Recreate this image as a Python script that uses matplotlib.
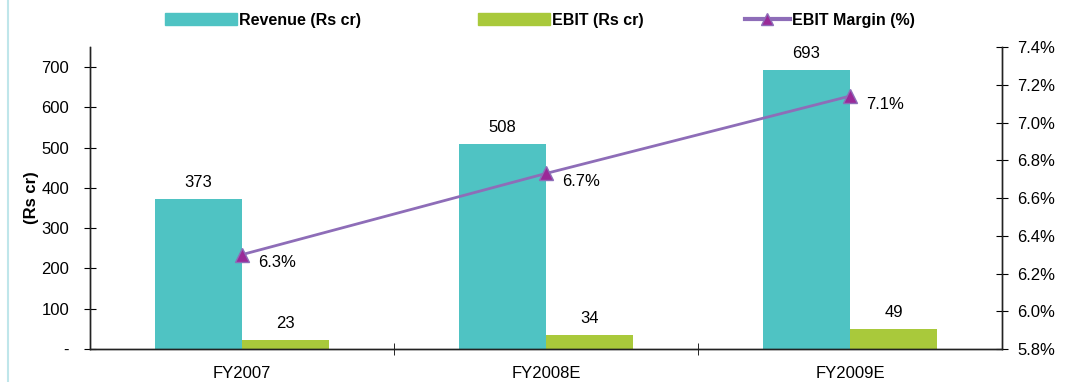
import numpy as np
import matplotlib.pyplot as plt
from matplotlib.lines import Line2D
from matplotlib.patches import Patch

plt.rcParams['font.family'] = ['Liberation Sans', 'DejaVu Sans']

years = ['FY2007', 'FY2008E', 'FY2009E']
revenue = [373, 508, 693]
ebit = [23, 34, 49]
margin = [6.30, 6.73, 7.14]

teal = '#4FC3C3'
green = '#A9C93B'
purple = '#8E6DB8'
magenta = '#9A2A98'

fig = plt.figure(figsize=(10.72, 3.82), dpi=100)
ax = fig.add_axes([90 / 1072, 1 - 349 / 382, 912 / 1072, 302 / 382])
ax2 = ax.twinx()

x = np.arange(len(years))
w = 0.286
ax.bar(x - w / 2, revenue, w, color=teal, zorder=2)
ax.bar(x + w / 2, ebit, w, color=green, zorder=2)

for i in range(len(years)):
    ax.annotate(str(revenue[i]), (x[i] - w / 2, revenue[i]), xytext=(0, 9),
                textcoords='offset pixels', ha='center', va='bottom', fontsize=12)
    ax.annotate(str(ebit[i]), (x[i] + w / 2, ebit[i]), xytext=(0, 9),
                textcoords='offset pixels', ha='center', va='bottom', fontsize=12)

ax2.plot(x, margin, color=purple, lw=2, marker='^', ms=10,
         mfc=magenta, mec=purple, mew=1, zorder=3)
for i in range(len(years)):
    ax2.annotate(f'{margin[i]:.1f}%', (x[i], margin[i]), xytext=(16, -8),
                 textcoords='offset pixels', ha='left', va='center', fontsize=12)

ax.set_xlim(-0.5, 2.5)
ax.set_ylim(0, 750)
ax2.set_ylim(5.8, 7.4)

ax.set_yticks(range(0, 701, 100))
ax.set_yticklabels(['-'] + [str(v) for v in range(100, 701, 100)], fontsize=12)
ax2.set_yticks(np.arange(5.8, 7.41, 0.2))
ax2.set_yticklabels([f'{v:.1f}%' for v in np.arange(5.8, 7.41, 0.2)], fontsize=12)

ax.set_xticks(x)
ax.set_xticklabels(years, fontsize=12)
ax.tick_params(axis='x', length=0, pad=12)
ax.set_xticks([0.5, 1.5], minor=True)
ax.tick_params(axis='x', which='minor', direction='inout', length=8)
ax.tick_params(axis='y', direction='inout', length=8, pad=11)
ax2.tick_params(axis='y', direction='inout', length=8, pad=7)

for a in (ax, ax2):
    a.spines['top'].set_visible(False)
    for s in ('left', 'right', 'bottom'):
        a.spines[s].set_linewidth(1)
        a.spines[s].set_color('#222222')

ax.set_ylabel('(Rs cr)', fontsize=12, fontweight='bold', labelpad=2)

# legend entries placed one by one across the top
entries = [
    (Patch(color=teal), 'Revenue (Rs cr)', 165, 4.5),
    (Patch(color=green), 'EBIT (Rs cr)', 478, 4.5),
    (Line2D([], [], color=purple, lw=3, marker='^', ms=8, mfc=magenta, mec=purple),
     'EBIT Margin (%)', 745, 2.8),
]
for h, lab, x0, hl in entries:
    leg = fig.legend([h], [lab], loc='center left', bbox_to_anchor=(x0 / 1072, 1 - 20 / 382),
                     frameon=False, prop={'weight': 'bold', 'size': 11.5},
                     borderpad=0, borderaxespad=0, handlelength=hl, handleheight=0.8,
                     handletextpad=0.15)

fig.add_artist(Line2D([8 / 1072, 8 / 1072], [0, 1], color='#BFE6EA', lw=1.5))

fig.savefig('out.png', dpi=100)
